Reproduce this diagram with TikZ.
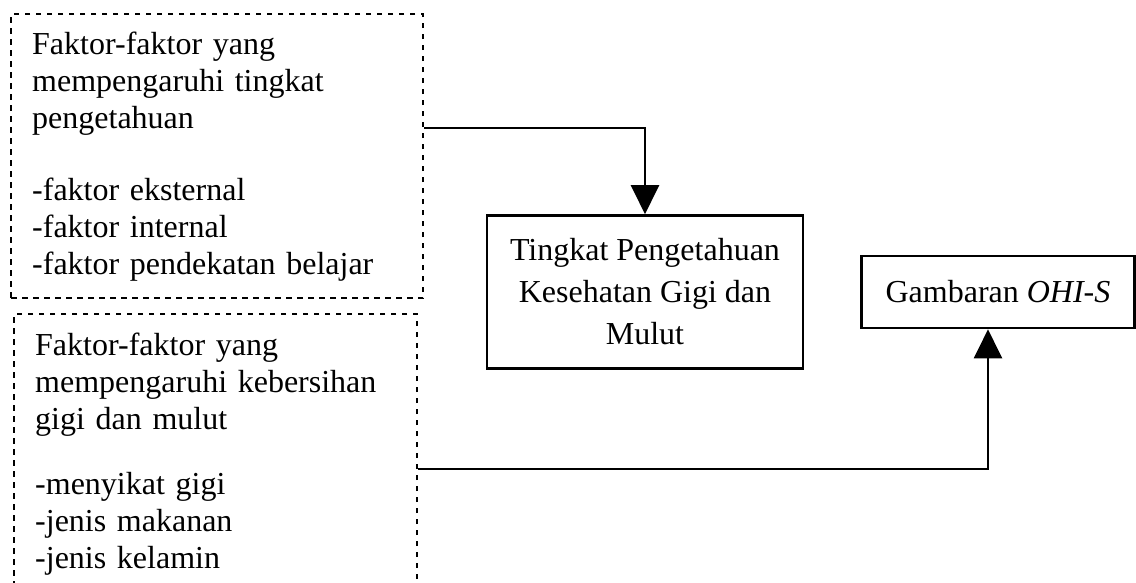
\documentclass[tikz,border=0pt]{standalone}
\usepackage{fontspec}
\setmainfont{Liberation Serif}
\usetikzlibrary{arrows.meta}

\begin{document}
\begin{tikzpicture}[x=1pt,y=-1pt,
    faktor/.style={draw,dash pattern=on 5.5pt off 5.5pt,line width=2.4pt,
      align=left,inner xsep=21pt,anchor=north west,
      font=\fontsize{32pt}{37pt}\selectfont},
    hasil/.style={draw,line width=2.6pt,align=center,
      font=\fontsize{32pt}{42pt}\selectfont},
    arr/.style={-{Triangle[width=28pt,length=29pt]},line width=2.2pt}]
      \clip (0,0) rectangle (1136,582);
      \node[faktor,text width=370pt,minimum height=284pt] (tahu) at (10,13)
        {Faktor-faktor yang\\mempengaruhi tingkat\\pengetahuan\\[35pt]
         -faktor eksternal\\-faktor internal\\-faktor pendekatan belajar};
      \node[faktor,text width=361pt,minimum height=280pt] (bersih) at (13,313)
        {Faktor-faktor yang\\mempengaruhi kebersihan\\gigi dan mulut\\[28pt]
         -menyikat gigi\\-jenis makanan\\-jenis kelamin};
      \node[hasil,minimum width=316pt,minimum height=153pt] (tingkat) at (645,292)
        {Tingkat Pengetahuan\\Kesehatan Gigi dan\\Mulut};
      \node[hasil,minimum width=273pt,minimum height=72pt] (ohis) at (998,292)
        {Gambaran \textit{OHI-S}};
      \draw[arr] ([yshift=28pt]tahu.east) -| (tingkat.north);
      \draw[arr] ([yshift=-15pt]bersih.east) -| ([xshift=-10pt]ohis.south);
    \end{tikzpicture}
\end{document}
